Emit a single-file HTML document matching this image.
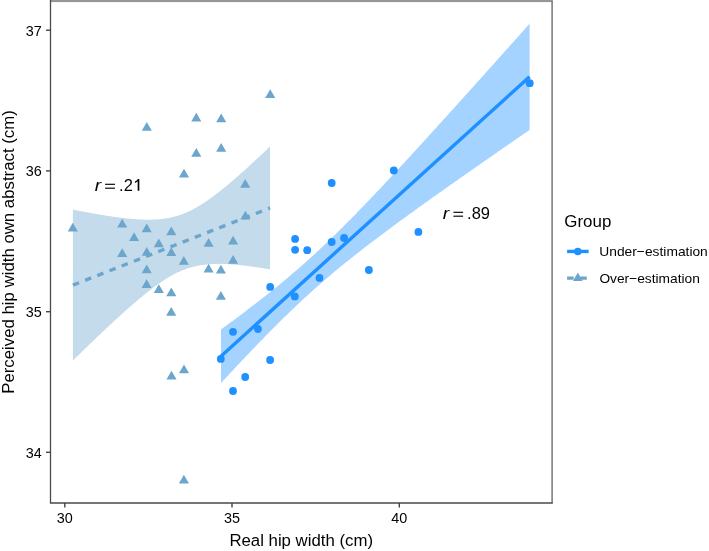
<!DOCTYPE html>
<html><head><meta charset="utf-8"><style>
html,body{margin:0;padding:0;background:#fff;}
svg{display:block;}
text{font-family:"Liberation Sans",sans-serif;fill:#000;font-kerning:none;}
</style></head><body>
<svg width="709" height="551" viewBox="0 0 709 551">
<rect x="0" y="0" width="709" height="551" fill="#fff"/>
<path d="M72.90,209.68 L73.90,209.87 L74.90,210.06 L75.90,210.26 L76.90,210.45 L77.90,210.64 L78.90,210.83 L79.90,211.02 L80.90,211.21 L81.90,211.40 L82.90,211.59 L83.90,211.77 L84.90,211.96 L85.90,212.14 L86.90,212.33 L87.90,212.51 L88.90,212.69 L89.90,212.87 L90.90,213.05 L91.90,213.23 L92.90,213.40 L93.90,213.58 L94.90,213.75 L95.90,213.92 L96.90,214.10 L97.90,214.27 L98.90,214.44 L99.90,214.60 L100.90,214.77 L101.90,214.93 L102.90,215.10 L103.90,215.26 L104.90,215.42 L105.90,215.57 L106.90,215.73 L107.90,215.89 L108.90,216.04 L109.90,216.19 L110.90,216.34 L111.90,216.48 L112.90,216.63 L113.90,216.77 L114.90,216.91 L115.90,217.05 L116.90,217.18 L117.90,217.32 L118.90,217.45 L119.90,217.58 L120.90,217.70 L121.90,217.82 L122.90,217.94 L123.90,218.06 L124.90,218.17 L125.90,218.29 L126.90,218.39 L127.90,218.50 L128.90,218.60 L129.90,218.69 L130.90,218.79 L131.90,218.88 L132.90,218.96 L133.90,219.04 L134.90,219.12 L135.90,219.19 L136.90,219.26 L137.90,219.33 L138.90,219.39 L139.90,219.44 L140.90,219.49 L141.90,219.53 L142.90,219.57 L143.90,219.60 L144.90,219.63 L145.90,219.65 L146.90,219.66 L147.90,219.67 L148.90,219.67 L149.90,219.66 L150.90,219.65 L151.90,219.63 L152.90,219.60 L153.90,219.56 L154.90,219.52 L155.90,219.47 L156.90,219.40 L157.90,219.33 L158.90,219.25 L159.90,219.16 L160.90,219.06 L161.90,218.96 L162.90,218.84 L163.90,218.71 L164.90,218.56 L165.90,218.41 L166.90,218.25 L167.90,218.07 L168.90,217.89 L169.90,217.69 L170.90,217.48 L171.90,217.25 L172.90,217.01 L173.90,216.76 L174.90,216.50 L175.90,216.22 L176.90,215.93 L177.90,215.63 L178.90,215.31 L179.90,214.98 L180.90,214.63 L181.90,214.27 L182.90,213.90 L183.90,213.51 L184.90,213.11 L185.90,212.69 L186.90,212.26 L187.90,211.81 L188.90,211.35 L189.90,210.88 L190.90,210.39 L191.90,209.89 L192.90,209.38 L193.90,208.85 L194.90,208.31 L195.90,207.76 L196.90,207.19 L197.90,206.61 L198.90,206.02 L199.90,205.42 L200.90,204.80 L201.90,204.18 L202.90,203.54 L203.90,202.89 L204.90,202.23 L205.90,201.56 L206.90,200.89 L207.90,200.20 L208.90,199.50 L209.90,198.79 L210.90,198.07 L211.90,197.34 L212.90,196.61 L213.90,195.87 L214.90,195.12 L215.90,194.36 L216.90,193.59 L217.90,192.82 L218.90,192.04 L219.90,191.25 L220.90,190.45 L221.90,189.65 L222.90,188.85 L223.90,188.03 L224.90,187.22 L225.90,186.39 L226.90,185.56 L227.90,184.73 L228.90,183.89 L229.90,183.04 L230.90,182.19 L231.90,181.34 L232.90,180.48 L233.90,179.62 L234.90,178.75 L235.90,177.88 L236.90,177.01 L237.90,176.13 L238.90,175.25 L239.90,174.36 L240.90,173.47 L241.90,172.58 L242.90,171.68 L243.90,170.78 L244.90,169.88 L245.90,168.98 L246.90,168.07 L247.90,167.16 L248.90,166.25 L249.90,165.33 L250.90,164.42 L251.90,163.50 L252.90,162.58 L253.90,161.65 L254.90,160.72 L255.90,159.80 L256.90,158.87 L257.90,157.93 L258.90,157.00 L259.90,156.06 L260.90,155.12 L261.90,154.18 L262.90,153.24 L263.90,152.30 L264.90,151.35 L265.90,150.41 L266.90,149.46 L267.90,148.51 L268.90,147.56 L269.90,146.60 L270.00,146.51 L270.00,269.39 L269.90,269.37 L268.90,269.20 L267.90,269.04 L266.90,268.87 L265.90,268.70 L264.90,268.54 L263.90,268.38 L262.90,268.22 L261.90,268.06 L260.90,267.90 L259.90,267.75 L258.90,267.59 L257.90,267.44 L256.90,267.29 L255.90,267.14 L254.90,267.00 L253.90,266.85 L252.90,266.71 L251.90,266.57 L250.90,266.44 L249.90,266.30 L248.90,266.17 L247.90,266.04 L246.90,265.91 L245.90,265.79 L244.90,265.67 L243.90,265.55 L242.90,265.43 L241.90,265.32 L240.90,265.21 L239.90,265.10 L238.90,265.00 L237.90,264.90 L236.90,264.81 L235.90,264.71 L234.90,264.63 L233.90,264.54 L232.90,264.46 L231.90,264.39 L230.90,264.32 L229.90,264.25 L228.90,264.19 L227.90,264.13 L226.90,264.08 L225.90,264.03 L224.90,263.99 L223.90,263.96 L222.90,263.93 L221.90,263.90 L220.90,263.88 L219.90,263.87 L218.90,263.87 L217.90,263.87 L216.90,263.88 L215.90,263.90 L214.90,263.92 L213.90,263.95 L212.90,263.99 L211.90,264.04 L210.90,264.10 L209.90,264.16 L208.90,264.24 L207.90,264.32 L206.90,264.41 L205.90,264.52 L204.90,264.63 L203.90,264.75 L202.90,264.89 L201.90,265.03 L200.90,265.19 L199.90,265.36 L198.90,265.54 L197.90,265.73 L196.90,265.93 L195.90,266.15 L194.90,266.38 L193.90,266.62 L192.90,266.88 L191.90,267.15 L190.90,267.43 L189.90,267.73 L188.90,268.04 L187.90,268.36 L186.90,268.70 L185.90,269.05 L184.90,269.41 L183.90,269.79 L182.90,270.19 L181.90,270.60 L180.90,271.02 L179.90,271.46 L178.90,271.91 L177.90,272.37 L176.90,272.85 L175.90,273.34 L174.90,273.85 L173.90,274.37 L172.90,274.90 L171.90,275.45 L170.90,276.01 L169.90,276.58 L168.90,277.16 L167.90,277.76 L166.90,278.36 L165.90,278.98 L164.90,279.61 L163.90,280.25 L162.90,280.91 L161.90,281.57 L160.90,282.24 L159.90,282.93 L158.90,283.62 L157.90,284.32 L156.90,285.04 L155.90,285.76 L154.90,286.49 L153.90,287.22 L152.90,287.97 L151.90,288.73 L150.90,289.49 L149.90,290.26 L148.90,291.03 L147.90,291.82 L146.90,292.61 L145.90,293.40 L144.90,294.21 L143.90,295.02 L142.90,295.83 L141.90,296.65 L140.90,297.48 L139.90,298.31 L138.90,299.15 L137.90,299.99 L136.90,300.83 L135.90,301.69 L134.90,302.54 L133.90,303.40 L132.90,304.27 L131.90,305.13 L130.90,306.01 L129.90,306.88 L128.90,307.76 L127.90,308.65 L126.90,309.53 L125.90,310.42 L124.90,311.32 L123.90,312.21 L122.90,313.11 L121.90,314.02 L120.90,314.92 L119.90,315.83 L118.90,316.74 L117.90,317.65 L116.90,318.57 L115.90,319.49 L114.90,320.41 L113.90,321.33 L112.90,322.26 L111.90,323.19 L110.90,324.11 L109.90,325.05 L108.90,325.98 L107.90,326.91 L106.90,327.85 L105.90,328.79 L104.90,329.73 L103.90,330.67 L102.90,331.62 L101.90,332.56 L100.90,333.51 L99.90,334.46 L98.90,335.41 L97.90,336.36 L96.90,337.32 L95.90,338.27 L94.90,339.23 L93.90,340.18 L92.90,341.14 L91.90,342.10 L90.90,343.06 L89.90,344.02 L88.90,344.99 L87.90,345.95 L86.90,346.92 L85.90,347.88 L84.90,348.85 L83.90,349.82 L82.90,350.79 L81.90,351.76 L80.90,352.73 L79.90,353.70 L78.90,354.67 L77.90,355.64 L76.90,356.62 L75.90,357.59 L74.90,358.57 L73.90,359.55 L72.90,360.52 Z" fill="#C4DBEB"/>
<path d="M221.00,329.48 L222.00,328.75 L223.00,328.02 L224.00,327.28 L225.00,326.55 L226.00,325.81 L227.00,325.08 L228.00,324.34 L229.00,323.60 L230.00,322.86 L231.00,322.12 L232.00,321.38 L233.00,320.64 L234.00,319.89 L235.00,319.15 L236.00,318.40 L237.00,317.65 L238.00,316.91 L239.00,316.16 L240.00,315.41 L241.00,314.66 L242.00,313.90 L243.00,313.15 L244.00,312.39 L245.00,311.64 L246.00,310.88 L247.00,310.12 L248.00,309.36 L249.00,308.60 L250.00,307.83 L251.00,307.07 L252.00,306.30 L253.00,305.54 L254.00,304.77 L255.00,304.00 L256.00,303.22 L257.00,302.45 L258.00,301.67 L259.00,300.90 L260.00,300.12 L261.00,299.34 L262.00,298.55 L263.00,297.77 L264.00,296.98 L265.00,296.19 L266.00,295.40 L267.00,294.61 L268.00,293.82 L269.00,293.02 L270.00,292.22 L271.00,291.42 L272.00,290.62 L273.00,289.81 L274.00,289.01 L275.00,288.20 L276.00,287.39 L277.00,286.57 L278.00,285.76 L279.00,284.94 L280.00,284.12 L281.00,283.30 L282.00,282.47 L283.00,281.64 L284.00,280.81 L285.00,279.98 L286.00,279.14 L287.00,278.31 L288.00,277.47 L289.00,276.62 L290.00,275.78 L291.00,274.93 L292.00,274.08 L293.00,273.22 L294.00,272.36 L295.00,271.50 L296.00,270.64 L297.00,269.78 L298.00,268.91 L299.00,268.04 L300.00,267.16 L301.00,266.28 L302.00,265.40 L303.00,264.52 L304.00,263.63 L305.00,262.75 L306.00,261.85 L307.00,260.96 L308.00,260.06 L309.00,259.16 L310.00,258.26 L311.00,257.35 L312.00,256.44 L313.00,255.53 L314.00,254.61 L315.00,253.69 L316.00,252.77 L317.00,251.84 L318.00,250.92 L319.00,249.98 L320.00,249.05 L321.00,248.11 L322.00,247.17 L323.00,246.23 L324.00,245.29 L325.00,244.34 L326.00,243.39 L327.00,242.43 L328.00,241.48 L329.00,240.52 L330.00,239.55 L331.00,238.59 L332.00,237.62 L333.00,236.65 L334.00,235.68 L335.00,234.70 L336.00,233.73 L337.00,232.74 L338.00,231.76 L339.00,230.78 L340.00,229.79 L341.00,228.80 L342.00,227.80 L343.00,226.81 L344.00,225.81 L345.00,224.81 L346.00,223.81 L347.00,222.80 L348.00,221.80 L349.00,220.79 L350.00,219.78 L351.00,218.77 L352.00,217.75 L353.00,216.73 L354.00,215.72 L355.00,214.69 L356.00,213.67 L357.00,212.65 L358.00,211.62 L359.00,210.59 L360.00,209.56 L361.00,208.53 L362.00,207.50 L363.00,206.46 L364.00,205.42 L365.00,204.39 L366.00,203.35 L367.00,202.30 L368.00,201.26 L369.00,200.22 L370.00,199.17 L371.00,198.12 L372.00,197.07 L373.00,196.02 L374.00,194.97 L375.00,193.92 L376.00,192.86 L377.00,191.81 L378.00,190.75 L379.00,189.69 L380.00,188.63 L381.00,187.57 L382.00,186.51 L383.00,185.45 L384.00,184.38 L385.00,183.32 L386.00,182.25 L387.00,181.18 L388.00,180.11 L389.00,179.04 L390.00,177.97 L391.00,176.90 L392.00,175.83 L393.00,174.76 L394.00,173.68 L395.00,172.61 L396.00,171.53 L397.00,170.45 L398.00,169.37 L399.00,168.30 L400.00,167.22 L401.00,166.14 L402.00,165.05 L403.00,163.97 L404.00,162.89 L405.00,161.81 L406.00,160.72 L407.00,159.64 L408.00,158.55 L409.00,157.47 L410.00,156.38 L411.00,155.29 L412.00,154.20 L413.00,153.11 L414.00,152.02 L415.00,150.93 L416.00,149.84 L417.00,148.75 L418.00,147.66 L419.00,146.57 L420.00,145.47 L421.00,144.38 L422.00,143.29 L423.00,142.19 L424.00,141.09 L425.00,140.00 L426.00,138.90 L427.00,137.81 L428.00,136.71 L429.00,135.61 L430.00,134.51 L431.00,133.41 L432.00,132.31 L433.00,131.21 L434.00,130.11 L435.00,129.01 L436.00,127.91 L437.00,126.81 L438.00,125.71 L439.00,124.61 L440.00,123.51 L441.00,122.40 L442.00,121.30 L443.00,120.20 L444.00,119.09 L445.00,117.99 L446.00,116.88 L447.00,115.78 L448.00,114.67 L449.00,113.57 L450.00,112.46 L451.00,111.35 L452.00,110.25 L453.00,109.14 L454.00,108.03 L455.00,106.92 L456.00,105.82 L457.00,104.71 L458.00,103.60 L459.00,102.49 L460.00,101.38 L461.00,100.27 L462.00,99.16 L463.00,98.05 L464.00,96.94 L465.00,95.83 L466.00,94.72 L467.00,93.61 L468.00,92.50 L469.00,91.39 L470.00,90.27 L471.00,89.16 L472.00,88.05 L473.00,86.94 L474.00,85.83 L475.00,84.71 L476.00,83.60 L477.00,82.49 L478.00,81.37 L479.00,80.26 L480.00,79.14 L481.00,78.03 L482.00,76.92 L483.00,75.80 L484.00,74.69 L485.00,73.57 L486.00,72.46 L487.00,71.34 L488.00,70.23 L489.00,69.11 L490.00,67.99 L491.00,66.88 L492.00,65.76 L493.00,64.64 L494.00,63.53 L495.00,62.41 L496.00,61.29 L497.00,60.18 L498.00,59.06 L499.00,57.94 L500.00,56.82 L501.00,55.71 L502.00,54.59 L503.00,53.47 L504.00,52.35 L505.00,51.23 L506.00,50.12 L507.00,49.00 L508.00,47.88 L509.00,46.76 L510.00,45.64 L511.00,44.52 L512.00,43.40 L513.00,42.28 L514.00,41.16 L515.00,40.04 L516.00,38.92 L517.00,37.80 L518.00,36.68 L519.00,35.56 L520.00,34.44 L521.00,33.32 L522.00,32.20 L523.00,31.08 L524.00,29.96 L525.00,28.84 L526.00,27.72 L527.00,26.60 L528.00,25.48 L529.00,24.35 L529.60,23.68 L529.60,129.92 L529.00,130.33 L528.00,131.02 L527.00,131.71 L526.00,132.40 L525.00,133.09 L524.00,133.78 L523.00,134.47 L522.00,135.16 L521.00,135.85 L520.00,136.54 L519.00,137.23 L518.00,137.93 L517.00,138.62 L516.00,139.31 L515.00,140.00 L514.00,140.69 L513.00,141.38 L512.00,142.07 L511.00,142.76 L510.00,143.46 L509.00,144.15 L508.00,144.84 L507.00,145.53 L506.00,146.23 L505.00,146.92 L504.00,147.61 L503.00,148.30 L502.00,149.00 L501.00,149.69 L500.00,150.38 L499.00,151.08 L498.00,151.77 L497.00,152.46 L496.00,153.16 L495.00,153.85 L494.00,154.55 L493.00,155.24 L492.00,155.94 L491.00,156.63 L490.00,157.33 L489.00,158.02 L488.00,158.72 L487.00,159.41 L486.00,160.11 L485.00,160.80 L484.00,161.50 L483.00,162.20 L482.00,162.89 L481.00,163.59 L480.00,164.29 L479.00,164.98 L478.00,165.68 L477.00,166.38 L476.00,167.07 L475.00,167.77 L474.00,168.47 L473.00,169.17 L472.00,169.87 L471.00,170.57 L470.00,171.27 L469.00,171.97 L468.00,172.66 L467.00,173.36 L466.00,174.06 L465.00,174.76 L464.00,175.47 L463.00,176.17 L462.00,176.87 L461.00,177.57 L460.00,178.27 L459.00,178.97 L458.00,179.67 L457.00,180.38 L456.00,181.08 L455.00,181.78 L454.00,182.49 L453.00,183.19 L452.00,183.89 L451.00,184.60 L450.00,185.30 L449.00,186.01 L448.00,186.71 L447.00,187.42 L446.00,188.12 L445.00,188.83 L444.00,189.54 L443.00,190.24 L442.00,190.95 L441.00,191.66 L440.00,192.37 L439.00,193.08 L438.00,193.78 L437.00,194.49 L436.00,195.20 L435.00,195.91 L434.00,196.62 L433.00,197.34 L432.00,198.05 L431.00,198.76 L430.00,199.47 L429.00,200.18 L428.00,200.90 L427.00,201.61 L426.00,202.33 L425.00,203.04 L424.00,203.76 L423.00,204.47 L422.00,205.19 L421.00,205.90 L420.00,206.62 L419.00,207.34 L418.00,208.06 L417.00,208.78 L416.00,209.50 L415.00,210.22 L414.00,210.94 L413.00,211.66 L412.00,212.38 L411.00,213.10 L410.00,213.83 L409.00,214.55 L408.00,215.28 L407.00,216.00 L406.00,216.73 L405.00,217.45 L404.00,218.18 L403.00,218.91 L402.00,219.64 L401.00,220.37 L400.00,221.10 L399.00,221.83 L398.00,222.56 L397.00,223.30 L396.00,224.03 L395.00,224.77 L394.00,225.50 L393.00,226.24 L392.00,226.98 L391.00,227.71 L390.00,228.45 L389.00,229.19 L388.00,229.94 L387.00,230.68 L386.00,231.42 L385.00,232.17 L384.00,232.91 L383.00,233.66 L382.00,234.41 L381.00,235.16 L380.00,235.91 L379.00,236.66 L378.00,237.41 L377.00,238.16 L376.00,238.92 L375.00,239.68 L374.00,240.43 L373.00,241.19 L372.00,241.95 L371.00,242.72 L370.00,243.48 L369.00,244.24 L368.00,245.01 L367.00,245.78 L366.00,246.55 L365.00,247.32 L364.00,248.09 L363.00,248.86 L362.00,249.64 L361.00,250.42 L360.00,251.20 L359.00,251.98 L358.00,252.76 L357.00,253.55 L356.00,254.33 L355.00,255.12 L354.00,255.91 L353.00,256.70 L352.00,257.50 L351.00,258.29 L350.00,259.09 L349.00,259.89 L348.00,260.69 L347.00,261.50 L346.00,262.31 L345.00,263.11 L344.00,263.93 L343.00,264.74 L342.00,265.55 L341.00,266.37 L340.00,267.19 L339.00,268.02 L338.00,268.84 L337.00,269.67 L336.00,270.50 L335.00,271.33 L334.00,272.17 L333.00,273.01 L332.00,273.85 L331.00,274.69 L330.00,275.54 L329.00,276.39 L328.00,277.24 L327.00,278.09 L326.00,278.95 L325.00,279.81 L324.00,280.67 L323.00,281.54 L322.00,282.41 L321.00,283.28 L320.00,284.15 L319.00,285.03 L318.00,285.91 L317.00,286.79 L316.00,287.68 L315.00,288.57 L314.00,289.46 L313.00,290.35 L312.00,291.25 L311.00,292.15 L310.00,293.06 L309.00,293.97 L308.00,294.88 L307.00,295.79 L306.00,296.70 L305.00,297.62 L304.00,298.55 L303.00,299.47 L302.00,300.40 L301.00,301.33 L300.00,302.26 L299.00,303.20 L298.00,304.14 L297.00,305.08 L296.00,306.03 L295.00,306.98 L294.00,307.93 L293.00,308.88 L292.00,309.84 L291.00,310.80 L290.00,311.76 L289.00,312.72 L288.00,313.69 L287.00,314.66 L286.00,315.63 L285.00,316.61 L284.00,317.59 L283.00,318.57 L282.00,319.55 L281.00,320.54 L280.00,321.53 L279.00,322.52 L278.00,323.51 L277.00,324.50 L276.00,325.50 L275.00,326.50 L274.00,327.50 L273.00,328.51 L272.00,329.52 L271.00,330.52 L270.00,331.53 L269.00,332.55 L268.00,333.56 L267.00,334.58 L266.00,335.60 L265.00,336.62 L264.00,337.64 L263.00,338.67 L262.00,339.69 L261.00,340.72 L260.00,341.75 L259.00,342.78 L258.00,343.82 L257.00,344.85 L256.00,345.89 L255.00,346.93 L254.00,347.97 L253.00,349.01 L252.00,350.05 L251.00,351.10 L250.00,352.14 L249.00,353.19 L248.00,354.24 L247.00,355.29 L246.00,356.34 L245.00,357.40 L244.00,358.45 L243.00,359.51 L242.00,360.56 L241.00,361.62 L240.00,362.68 L239.00,363.74 L238.00,364.80 L237.00,365.87 L236.00,366.93 L235.00,368.00 L234.00,369.06 L233.00,370.13 L232.00,371.20 L231.00,372.27 L230.00,373.34 L229.00,374.41 L228.00,375.48 L227.00,376.56 L226.00,377.63 L225.00,378.71 L224.00,379.78 L223.00,380.86 L222.00,381.94 L221.00,383.02 Z" fill="#A5D3FF"/>
<path d="M146.80,122.07L151.85,130.81L141.75,130.81ZM196.30,112.67L201.35,121.42L191.25,121.42ZM221.20,113.47L226.25,122.22L216.15,122.22ZM270.20,89.17L275.25,97.92L265.15,97.92ZM196.30,147.97L201.35,156.72L191.25,156.72ZM221.20,143.07L226.25,151.81L216.15,151.81ZM184.00,168.67L189.05,177.41L178.95,177.41ZM245.20,179.07L250.25,187.81L240.15,187.81ZM72.80,222.87L77.85,231.61L67.75,231.61ZM122.20,218.77L127.25,227.51L117.15,227.51ZM146.70,223.57L151.75,232.31L141.65,232.31ZM171.30,226.57L176.35,235.31L166.25,235.31ZM134.10,232.37L139.15,241.11L129.05,241.11ZM158.80,238.57L163.85,247.31L153.75,247.31ZM122.20,248.17L127.25,256.92L117.15,256.92ZM146.80,246.97L151.85,255.72L141.75,255.72ZM171.30,247.37L176.35,256.12L166.25,256.12ZM183.80,255.97L188.85,264.72L178.75,264.72ZM146.70,264.47L151.75,273.22L141.65,273.22ZM146.60,279.17L151.65,287.92L141.55,287.92ZM158.80,284.27L163.85,293.02L153.75,293.02ZM171.30,287.57L176.35,296.31L166.25,296.31ZM171.20,307.07L176.25,315.81L166.15,315.81ZM245.40,210.67L250.45,219.41L240.35,219.41ZM208.60,238.07L213.65,246.81L203.55,246.81ZM233.10,235.87L238.15,244.61L228.05,244.61ZM233.10,254.97L238.15,263.72L228.05,263.72ZM208.60,263.87L213.65,272.62L203.55,272.62ZM220.90,264.87L225.95,273.62L215.85,273.62ZM220.90,290.97L225.95,299.72L215.85,299.72ZM184.00,364.47L189.05,373.22L178.95,373.22ZM171.50,370.77L176.55,379.52L166.45,379.52ZM183.90,474.67L188.95,483.42L178.85,483.42Z" fill="#6CA6CD"/>
<g fill="#1E90FF">
<circle cx="529.7" cy="83.2" r="3.9"/>
<circle cx="233.0" cy="331.8" r="3.9"/>
<circle cx="257.9" cy="329.0" r="3.9"/>
<circle cx="220.8" cy="358.9" r="3.9"/>
<circle cx="270.1" cy="360.0" r="3.9"/>
<circle cx="245.2" cy="377.0" r="3.9"/>
<circle cx="233.0" cy="391.0" r="3.9"/>
<circle cx="270.2" cy="286.9" r="3.9"/>
<circle cx="295.1" cy="238.9" r="3.9"/>
<circle cx="295.1" cy="249.8" r="3.9"/>
<circle cx="307.2" cy="250.2" r="3.9"/>
<circle cx="331.7" cy="183.0" r="3.9"/>
<circle cx="331.7" cy="242.0" r="3.9"/>
<circle cx="344.1" cy="238.0" r="3.9"/>
<circle cx="319.5" cy="277.9" r="3.9"/>
<circle cx="294.8" cy="296.4" r="3.9"/>
<circle cx="368.9" cy="270.0" r="3.9"/>
<circle cx="393.8" cy="170.5" r="3.9"/>
<circle cx="418.4" cy="231.9" r="3.9"/>
</g>
<line x1="72.9" y1="285.1" x2="270.0" y2="207.95" stroke="#6CA6CD" stroke-width="3.4" stroke-dasharray="6.55 6.55"/>
<line x1="221.0" y1="356.25" x2="529.6" y2="76.7" stroke="#1E90FF" stroke-width="3.4"/>
<!-- panel border -->
<rect x="50" y="0" width="502.8" height="2.1" fill="#969696"/>
<path d="M552.1,1 V503.0" fill="none" stroke="#777" stroke-width="1.5"/>
<!-- axes -->
<path d="M50.5,0 V503.0 H552.8" fill="none" stroke="#4a4a4a" stroke-width="1.3"/>
<g stroke="#444" stroke-width="1.4">
<line x1="46" y1="30.2" x2="50.5" y2="30.2"/>
<line x1="46" y1="170.9" x2="50.5" y2="170.9"/>
<line x1="46" y1="311.7" x2="50.5" y2="311.7"/>
<line x1="46" y1="452.3" x2="50.5" y2="452.3"/>
<line x1="64.8" y1="503" x2="64.8" y2="507.5"/>
<line x1="232.0" y1="503" x2="232.0" y2="507.5"/>
<line x1="399.3" y1="503" x2="399.3" y2="507.5"/>
</g>
<g opacity="0.999">
<g font-size="14.4" text-anchor="end">
<text x="41.8" y="35.5">37</text>
<text x="41.8" y="176.2">36</text>
<text x="41.8" y="317.0">35</text>
<text x="41.8" y="457.6">34</text>
</g>
<g font-size="14.4" text-anchor="middle">
<text x="64.8" y="522.7">30</text>
<text x="232.0" y="522.7">35</text>
<text x="399.3" y="522.7">40</text>
</g>
<text x="301.2" y="545.6" font-size="16.8" text-anchor="middle">Real hip width (cm)</text>
<text transform="translate(14.35,252.0) rotate(-90)" font-size="16.8" text-anchor="middle">Perceived hip width own abstract (cm)</text>
<g font-size="16.5">
<text x="94.7" y="190.7" font-style="italic" textLength="6.4" lengthAdjust="spacingAndGlyphs">r</text>
<text x="119.1" y="190.7">.2</text>
<text x="442.7" y="218.7" font-style="italic" textLength="6.4" lengthAdjust="spacingAndGlyphs">r</text>
<text x="467.1" y="218.7">.89</text>
</g>
<g stroke="#000" stroke-width="1.15">
<line x1="105.1" y1="184.3" x2="115.0" y2="184.3"/>
<line x1="105.1" y1="188.2" x2="115.0" y2="188.2"/>
<line x1="453.4" y1="212.3" x2="463.1" y2="212.3"/>
<line x1="453.4" y1="216.2" x2="463.1" y2="216.2"/>
</g>
<path d="M139.35,190.8 L137.65,190.8 L137.65,181.3 Q136.5,182.5 134.9,183.1 L134.9,181.5 Q136.9,180.6 137.9,179.0 L139.35,179.0 Z" fill="#000"/>
<text x="564.3" y="227.0" font-size="16" textLength="47" lengthAdjust="spacingAndGlyphs">Group</text>
<line x1="567.1" y1="251.45" x2="588.6" y2="251.45" stroke="#1E90FF" stroke-width="3.4"/>
<circle cx="577.8" cy="251.5" r="3.8" fill="#1E90FF"/>
<line x1="567.1" y1="278.1" x2="588.6" y2="278.1" stroke="#6CA6CD" stroke-width="3.4" stroke-dasharray="6.55 6.55"/>
<path d="M577.80,272.50L582.65,280.90L572.95,280.90Z" fill="#6CA6CD"/>
<g font-size="13.6">
<text x="599.3" y="256.2" textLength="108.5" lengthAdjust="spacingAndGlyphs">Under&#8722;estimation</text>
<text x="599.4" y="282.6" textLength="100.5" lengthAdjust="spacingAndGlyphs">Over&#8722;estimation</text>
</g>
</g>
</svg>
</body></html>
